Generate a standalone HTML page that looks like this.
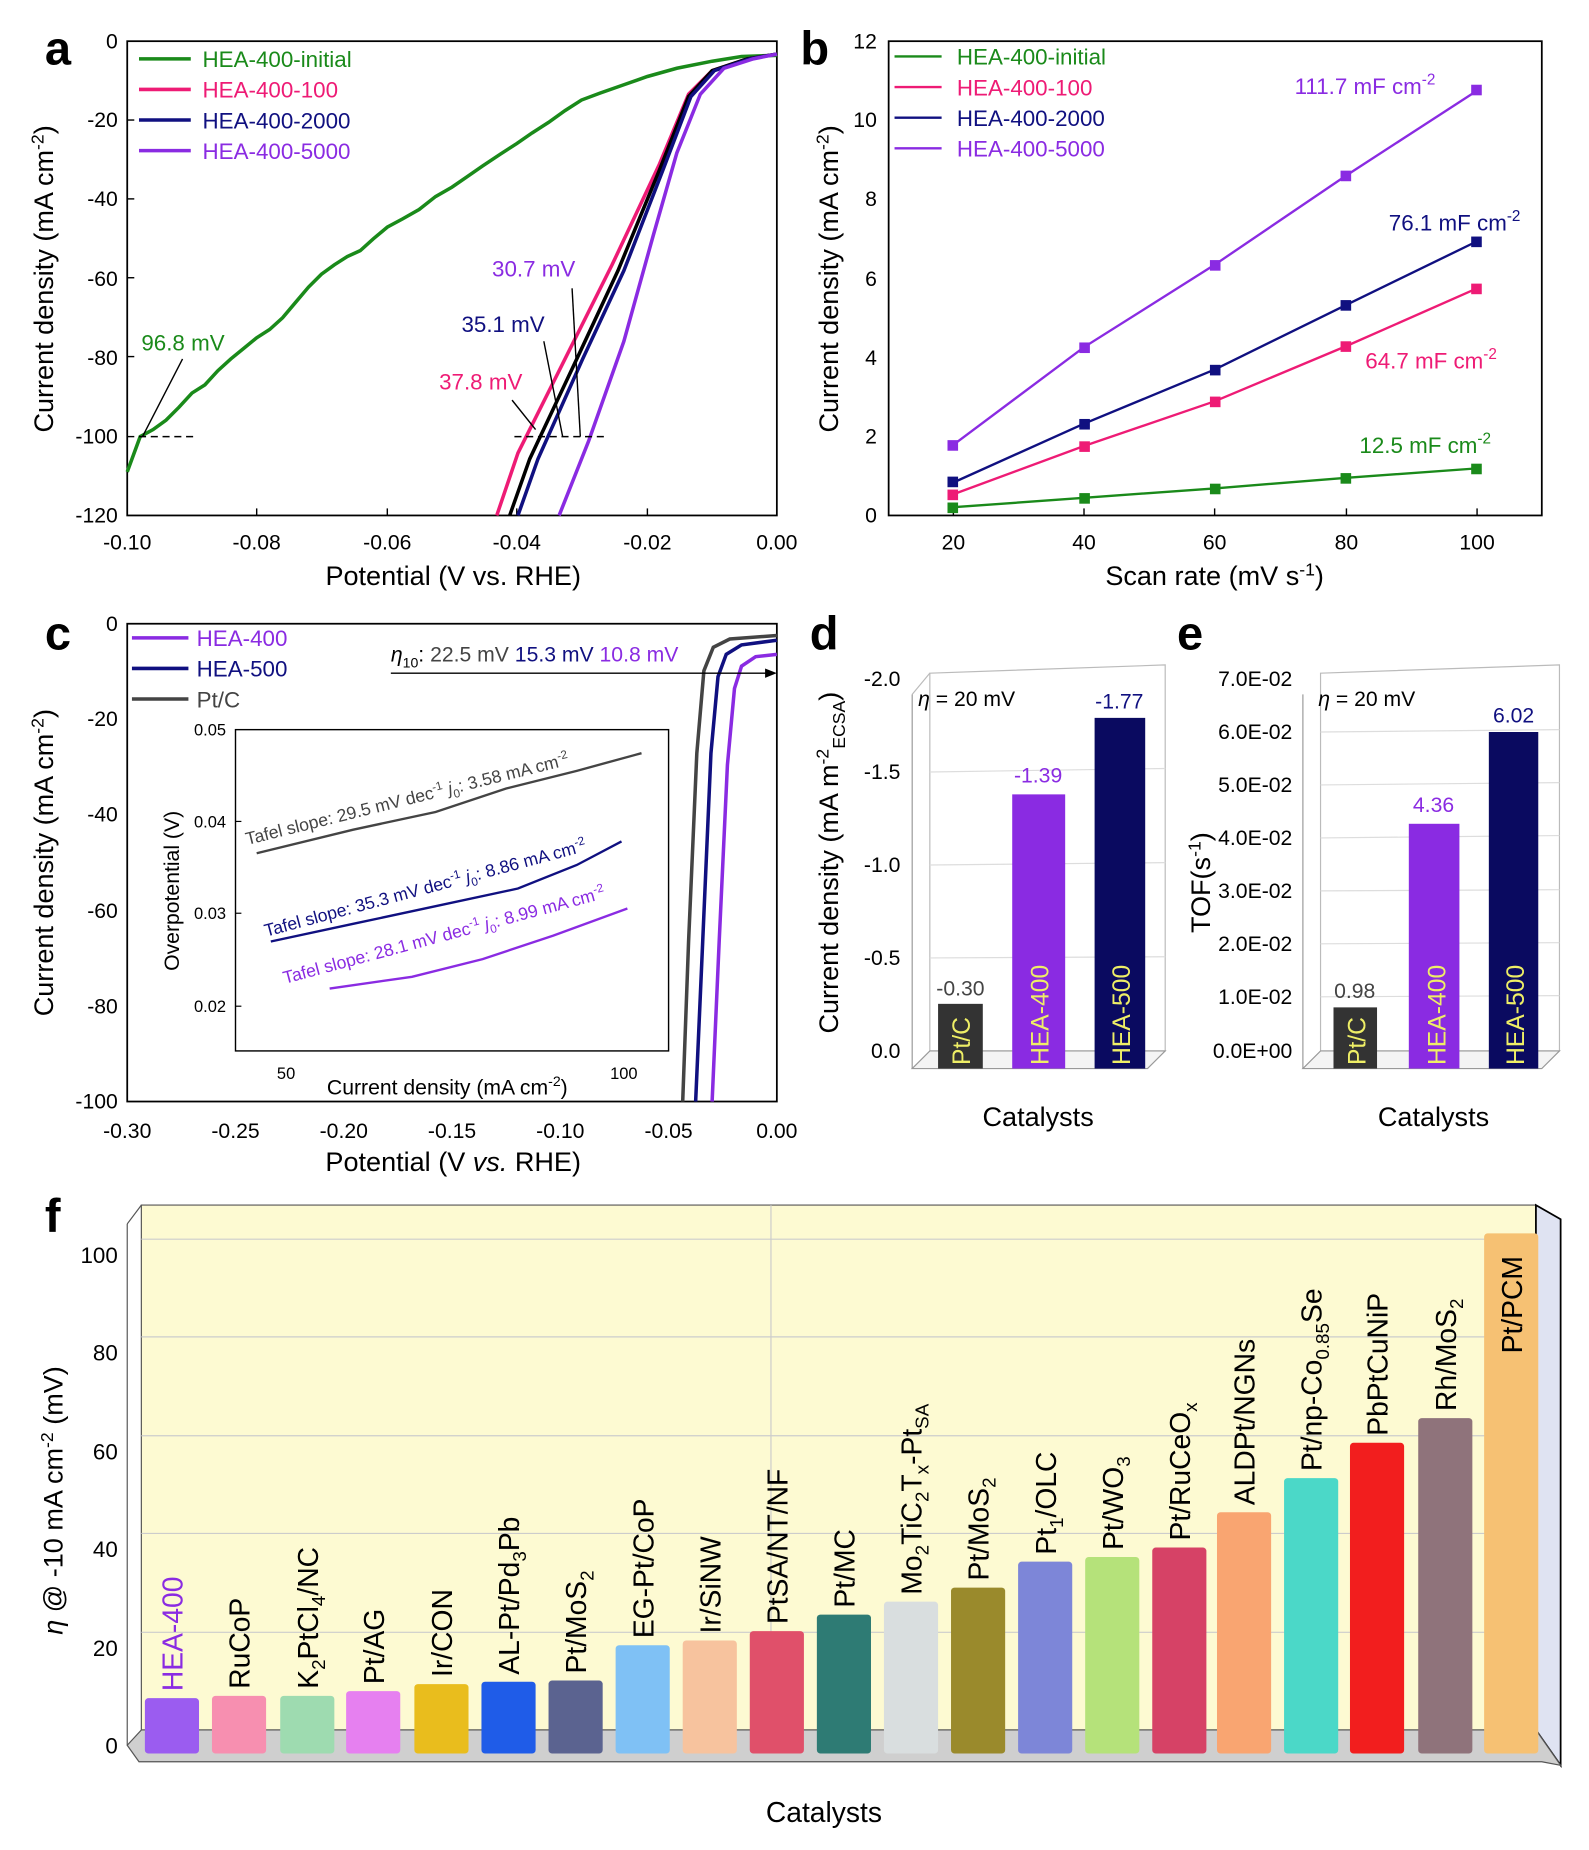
<!DOCTYPE html>
<html><head><meta charset="utf-8"><style>html,body{margin:0;padding:0;background:#fff}svg{display:block}text{font-family:"Liberation Sans",Arial,sans-serif}</style></head>
<body>
<svg width="1589" height="1850" viewBox="0 0 1350 1572" xmlns="http://www.w3.org/2000/svg">
<rect width="1350" height="1572" fill="#fff"/>
<!-- Panel a -->
<text x="38" y="55" font-size="40" font-weight="bold">a</text>
<rect x="108" y="35" width="552" height="403" fill="none" stroke="#000" stroke-width="1.5"/>
<g font-size="18" text-anchor="end">
<text x="100" y="41">0</text><text x="100" y="108">-20</text><text x="100" y="175">-40</text><text x="100" y="243">-60</text><text x="100" y="310">-80</text><text x="100" y="377">-100</text><text x="100" y="444">-120</text></g>
<g stroke="#000" stroke-width="1.2"><line x1="108" y1="102" x2="114" y2="102"/><line x1="108" y1="169" x2="114" y2="169"/><line x1="108" y1="236" x2="114" y2="236"/><line x1="108" y1="303" x2="114" y2="303"/><line x1="108" y1="371" x2="114" y2="371"/>
<line x1="218" y1="438" x2="218" y2="432"/><line x1="329" y1="438" x2="329" y2="432"/><line x1="439" y1="438" x2="439" y2="432"/><line x1="550" y1="438" x2="550" y2="432"/></g>
<g font-size="18" text-anchor="middle"><text x="108" y="467">-0.10</text><text x="218" y="467">-0.08</text><text x="329" y="467">-0.06</text><text x="439" y="467">-0.04</text><text x="550" y="467">-0.02</text><text x="660" y="467">0.00</text></g>
<text x="385" y="497" font-size="23" text-anchor="middle">Potential (V vs. RHE)</text>
<text transform="translate(45,237) rotate(-90)" font-size="23" text-anchor="middle">Current density (mA cm<tspan font-size="15" dy="-8">-2</tspan><tspan dy="8">)</tspan></text>
<g fill="none" stroke-width="3">
<polyline stroke="#1a8a1a" points="108,401 119,371 130,365 141,357 152,346 163,334 174,327 185,315 196,305 207,296 218,287 229,280 240,270 251,257 262,244 273,233 284,225 295,218 306,213 317,203 329,193 342,186 356,178 370,167 384,159 397,150 410,141 425,131 439,122 452,113 466,104 480,94 494,85 510,79 530,72 550,65 575,58 605,52 630,48 660,47"/>
<polyline stroke="#ee1b75" points="422,438 440,385 480,305 520,225 560,140 585,80 605,60 635,50 660,46"/>
<polyline stroke="#000" points="433,438 450,390 490,305 525,230 560,145 585,82 605,60 635,50 660,46"/>
<polyline stroke="#101080" points="440,438 457,390 495,305 530,230 563,145 587,82 607,60 637,50 660,46"/>
<polyline stroke="#8a2be2" points="475,438 500,375 530,290 555,200 575,130 595,80 615,58 640,50 660,46"/>
</g>
<g stroke="#000" stroke-width="1.2" stroke-dasharray="6,4"><line x1="118" y1="371" x2="165" y2="371"/><line x1="437" y1="371" x2="515" y2="371"/></g>
<g stroke="#000" stroke-width="1.2"><line x1="121" y1="371" x2="155" y2="305"/><line x1="455" y1="365" x2="435" y2="340"/><line x1="478" y1="371" x2="462" y2="290"/><line x1="493" y1="371" x2="486" y2="245"/></g>
<text x="120" y="298" font-size="19" fill="#1a8a1a">96.8 mV</text>
<text x="373" y="331" font-size="19" fill="#ee1b75">37.8 mV</text>
<text x="392" y="282" font-size="19" fill="#101080">35.1 mV</text>
<text x="418" y="235" font-size="19" fill="#8a2be2">30.7 mV</text>
<g font-size="19"><line x1="118" y1="50" x2="162" y2="50" stroke="#1a8a1a" stroke-width="3"/><text x="172" y="57" fill="#1a8a1a">HEA-400-initial</text>
<line x1="118" y1="76" x2="162" y2="76" stroke="#ee1b75" stroke-width="3"/><text x="172" y="83" fill="#ee1b75">HEA-400-100</text>
<line x1="118" y1="102" x2="162" y2="102" stroke="#101080" stroke-width="3"/><text x="172" y="109" fill="#101080">HEA-400-2000</text>
<line x1="118" y1="128" x2="162" y2="128" stroke="#8a2be2" stroke-width="3"/><text x="172" y="135" fill="#8a2be2">HEA-400-5000</text></g>

<!-- Panel b -->
<text x="680" y="55" font-size="40" font-weight="bold">b</text>
<rect x="755" y="35" width="555" height="403" fill="none" stroke="#000" stroke-width="1.5"/>
<g font-size="18" text-anchor="end"><text x="745" y="444">0</text><text x="745" y="377">2</text><text x="745" y="310">4</text><text x="745" y="243">6</text><text x="745" y="175">8</text><text x="745" y="108">10</text><text x="745" y="41">12</text></g>
<g font-size="18" text-anchor="middle"><text x="810" y="467">20</text><text x="921" y="467">40</text><text x="1032" y="467">60</text><text x="1144" y="467">80</text><text x="1255" y="467">100</text></g>
<g stroke="#000" stroke-width="1.2"><line x1="810" y1="438" x2="810" y2="432"/><line x1="921" y1="438" x2="921" y2="432"/><line x1="1032" y1="438" x2="1032" y2="432"/><line x1="1144" y1="438" x2="1144" y2="432"/><line x1="1255" y1="438" x2="1255" y2="432"/></g>
<text x="1032" y="497" font-size="23" text-anchor="middle">Scan rate (mV s<tspan font-size="15" dy="-8">-1</tspan><tspan dy="8">)</tspan></text>
<text transform="translate(712,237) rotate(-90)" font-size="23" text-anchor="middle">Current density (mA cm<tspan font-size="15" dy="-8">-2</tspan><tspan dy="8">)</tspan></text>
<g stroke-width="2" fill="none">
<polyline stroke="#8a2be2" points="810,378 921,295 1032,225 1144,149 1255,77"/>
<polyline stroke="#101080" points="810,410 921,360 1032,314 1144,259 1255,205"/>
<polyline stroke="#ee1b75" points="810,420 921,379 1032,341 1144,294 1255,245"/>
<polyline stroke="#1a8a1a" points="810,431 921,423 1032,415 1144,406 1255,398"/>
</g>
<g fill="#8a2be2"><rect x="805" y="374" width="9" height="9"/><rect x="917" y="291" width="9" height="9"/><rect x="1028" y="221" width="9" height="9"/><rect x="1139" y="145" width="9" height="9"/><rect x="1250" y="72" width="9" height="9"/></g>
<g fill="#101080"><rect x="805" y="405" width="9" height="9"/><rect x="917" y="356" width="9" height="9"/><rect x="1028" y="310" width="9" height="9"/><rect x="1139" y="255" width="9" height="9"/><rect x="1250" y="201" width="9" height="9"/></g>
<g fill="#ee1b75"><rect x="805" y="416" width="9" height="9"/><rect x="917" y="375" width="9" height="9"/><rect x="1028" y="337" width="9" height="9"/><rect x="1139" y="290" width="9" height="9"/><rect x="1250" y="241" width="9" height="9"/></g>
<g fill="#1a8a1a"><rect x="805" y="427" width="9" height="9"/><rect x="917" y="419" width="9" height="9"/><rect x="1028" y="411" width="9" height="9"/><rect x="1139" y="402" width="9" height="9"/><rect x="1250" y="394" width="9" height="9"/></g>
<g font-size="19"><text x="1100" y="80" fill="#8a2be2">111.7 mF cm<tspan font-size="13" dy="-8">-2</tspan></text>
<text x="1180" y="196" fill="#101080">76.1 mF cm<tspan font-size="13" dy="-8">-2</tspan></text>
<text x="1160" y="313" fill="#ee1b75">64.7 mF cm<tspan font-size="13" dy="-8">-2</tspan></text>
<text x="1155" y="385" fill="#1a8a1a">12.5 mF cm<tspan font-size="13" dy="-8">-2</tspan></text></g>
<g font-size="19"><line x1="760" y1="48" x2="800" y2="48" stroke="#1a8a1a" stroke-width="2"/><text x="813" y="55" fill="#1a8a1a">HEA-400-initial</text>
<line x1="760" y1="74" x2="800" y2="74" stroke="#ee1b75" stroke-width="2"/><text x="813" y="81" fill="#ee1b75">HEA-400-100</text>
<line x1="760" y1="100" x2="800" y2="100" stroke="#101080" stroke-width="2"/><text x="813" y="107" fill="#101080">HEA-400-2000</text>
<line x1="760" y1="126" x2="800" y2="126" stroke="#8a2be2" stroke-width="2"/><text x="813" y="133" fill="#8a2be2">HEA-400-5000</text></g>

<!-- Panel c -->
<text x="38" y="552" font-size="40" font-weight="bold">c</text>
<rect x="108" y="530" width="552" height="406" fill="none" stroke="#000" stroke-width="1.5"/>
<g font-size="18" text-anchor="end"><text x="100" y="536">0</text><text x="100" y="617">-20</text><text x="100" y="698">-40</text><text x="100" y="780">-60</text><text x="100" y="861">-80</text><text x="100" y="942">-100</text></g>
<g font-size="18" text-anchor="middle"><text x="108" y="967">-0.30</text><text x="200" y="967">-0.25</text><text x="292" y="967">-0.20</text><text x="384" y="967">-0.15</text><text x="476" y="967">-0.10</text><text x="568" y="967">-0.05</text><text x="660" y="967">0.00</text></g>
<text x="385" y="995" font-size="23" text-anchor="middle">Potential (V <tspan font-style="italic">vs.</tspan> RHE)</text>
<text transform="translate(45,733) rotate(-90)" font-size="23" text-anchor="middle">Current density (mA cm<tspan font-size="15" dy="-8">-2</tspan><tspan dy="8">)</tspan></text>
<g fill="none" stroke-width="3">
<polyline stroke="#444" points="580,936 585,800 592,640 598,570 606,550 620,543 660,540"/>
<polyline stroke="#101080" points="591,936 597,800 604,640 610,575 617,556 630,548 660,544"/>
<polyline stroke="#8a2be2" points="605,936 611,800 618,650 624,585 630,566 642,558 660,556"/>
</g>
<g font-size="19"><line x1="112" y1="542" x2="160" y2="542" stroke="#8a2be2" stroke-width="3"/><text x="167" y="549" fill="#8a2be2">HEA-400</text>
<line x1="112" y1="568" x2="160" y2="568" stroke="#101080" stroke-width="3"/><text x="167" y="575" fill="#101080">HEA-500</text>
<line x1="112" y1="594" x2="160" y2="594" stroke="#444" stroke-width="3"/><text x="167" y="601" fill="#444">Pt/C</text></g>
<text x="332" y="562" font-size="18"><tspan font-style="italic">η</tspan><tspan font-size="12" dy="5">10</tspan><tspan dy="-5">: </tspan><tspan fill="#444">22.5 mV </tspan><tspan fill="#101080">15.3 mV </tspan><tspan fill="#8a2be2">10.8 mV</tspan></text>
<line x1="332" y1="572" x2="655" y2="572" stroke="#000" stroke-width="1.2"/><polygon points="660,572 650,568 650,576" fill="#000"/>
<rect x="200" y="620" width="368" height="273" fill="#fff" stroke="#000" stroke-width="1.2"/>
<g font-size="14" text-anchor="end"><text x="192" y="625">0.05</text><text x="192" y="703">0.04</text><text x="192" y="781">0.03</text><text x="192" y="860">0.02</text></g>
<g stroke="#000"><line x1="200" y1="698" x2="205" y2="698"/><line x1="200" y1="776" x2="205" y2="776"/><line x1="200" y1="855" x2="205" y2="855"/></g>
<text x="243" y="917" font-size="14" text-anchor="middle">50</text><text x="530" y="917" font-size="14" text-anchor="middle">100</text>
<text x="380" y="930" font-size="18" text-anchor="middle">Current density (mA cm<tspan font-size="12" dy="-7">-2</tspan><tspan dy="7">)</tspan></text>
<text transform="translate(152,757) rotate(-90)" font-size="18" text-anchor="middle">Overpotential (V)</text>
<g fill="none" stroke-width="2">
<polyline stroke="#444" points="218,725 300,705 370,690 430,670 490,655 545,640"/>
<polyline stroke="#101080" points="230,800 300,785 370,770 440,755 490,735 528,715"/>
<polyline stroke="#8a2be2" points="280,840 350,830 410,815 470,795 533,772"/>
</g>
<text transform="translate(210,718) rotate(-14)" font-size="15" fill="#444">Tafel slope: 29.5 mV dec<tspan font-size="10" dy="-6">-1</tspan><tspan dy="6"> </tspan><tspan font-style="italic">j</tspan><tspan font-size="10" dy="4">0</tspan><tspan dy="-4">: 3.58 mA cm</tspan><tspan font-size="10" dy="-6">-2</tspan></text>
<text transform="translate(226,796) rotate(-15)" font-size="15" fill="#101080">Tafel slope: 35.3 mV dec<tspan font-size="10" dy="-6">-1</tspan><tspan dy="6"> </tspan><tspan font-style="italic">j</tspan><tspan font-size="10" dy="4">0</tspan><tspan dy="-4">: 8.86 mA cm</tspan><tspan font-size="10" dy="-6">-2</tspan></text>
<text transform="translate(242,836) rotate(-15)" font-size="15" fill="#8a2be2">Tafel slope: 28.1 mV dec<tspan font-size="10" dy="-6">-1</tspan><tspan dy="6"> </tspan><tspan font-style="italic">j</tspan><tspan font-size="10" dy="4">0</tspan><tspan dy="-4">: 8.99 mA cm</tspan><tspan font-size="10" dy="-6">-2</tspan></text>

<!-- Panel d -->
<text x="688" y="552" font-size="40" font-weight="bold">d</text>
<polygon points="790,572 990,565 990,893 790,893" fill="#fff" stroke="#bbb"/>
<polygon points="775,908 975,908 990,893 790,893" fill="#f4f4f4" stroke="#999"/>
<line x1="775" y1="908" x2="775" y2="590" stroke="#999"/>
<line x1="775" y1="590" x2="790" y2="572" stroke="#bbb"/>
<g stroke="#ddd"><line x1="790" y1="656" x2="990" y2="653"/><line x1="790" y1="735" x2="990" y2="733"/><line x1="790" y1="814" x2="990" y2="813"/></g>
<g font-size="18" text-anchor="end"><text x="765" y="583">-2.0</text><text x="765" y="662">-1.5</text><text x="765" y="741">-1.0</text><text x="765" y="820">-0.5</text><text x="765" y="899">0.0</text></g>
<text transform="translate(712,733) rotate(-90)" font-size="23" text-anchor="middle">Current density (mA m<tspan font-size="15" dy="-8">-2</tspan><tspan font-size="15" dy="14">ECSA</tspan><tspan dy="-6">)</tspan></text>
<text x="780" y="600" font-size="18"><tspan font-style="italic">η</tspan> = 20 mV</text>
<rect x="797" y="853" width="38" height="55" fill="#333"/>
<rect x="860" y="675" width="45" height="233" fill="#8a2be2"/>
<rect x="930" y="610" width="43" height="298" fill="#0a0a60"/>
<text x="816" y="846" font-size="18" fill="#444" text-anchor="middle">-0.30</text>
<text x="882" y="665" font-size="18" fill="#8a2be2" text-anchor="middle">-1.39</text>
<text x="951" y="602" font-size="18" fill="#101080" text-anchor="middle">-1.77</text>
<text transform="translate(824,905) rotate(-90)" font-size="21" fill="#ee6">Pt/C</text>
<text transform="translate(891,905) rotate(-90)" font-size="21" fill="#ee6">HEA-400</text>
<text transform="translate(960,905) rotate(-90)" font-size="21" fill="#ee6">HEA-500</text>
<text x="882" y="957" font-size="23" text-anchor="middle">Catalysts</text>

<!-- Panel e -->
<text x="1000" y="552" font-size="40" font-weight="bold">e</text>
<polygon points="1122,572 1325,565 1325,893 1122,893" fill="#fff" stroke="#bbb"/>
<polygon points="1107,908 1310,908 1325,893 1122,893" fill="#f4f4f4" stroke="#999"/>
<line x1="1107" y1="908" x2="1107" y2="590" stroke="#999"/>
<g stroke="#ddd"><line x1="1122" y1="622" x2="1325" y2="620"/><line x1="1122" y1="667" x2="1325" y2="665"/><line x1="1122" y1="712" x2="1325" y2="710"/><line x1="1122" y1="757" x2="1325" y2="756"/><line x1="1122" y1="802" x2="1325" y2="801"/><line x1="1122" y1="847" x2="1325" y2="846"/></g>
<g font-size="18" text-anchor="end"><text x="1098" y="583">7.0E-02</text><text x="1098" y="628">6.0E-02</text><text x="1098" y="673">5.0E-02</text><text x="1098" y="718">4.0E-02</text><text x="1098" y="763">3.0E-02</text><text x="1098" y="808">2.0E-02</text><text x="1098" y="853">1.0E-02</text><text x="1098" y="899">0.0E+00</text></g>
<text transform="translate(1028,750) rotate(-90)" font-size="23" text-anchor="middle">TOF(s<tspan font-size="15" dy="-8">-1</tspan><tspan dy="8">)</tspan></text>
<text x="1120" y="600" font-size="18"><tspan font-style="italic">η</tspan> = 20 mV</text>
<rect x="1133" y="856" width="37" height="52" fill="#333"/>
<rect x="1197" y="700" width="43" height="208" fill="#8a2be2"/>
<rect x="1265" y="622" width="42" height="286" fill="#0a0a60"/>
<text x="1151" y="848" font-size="18" fill="#444" text-anchor="middle">0.98</text>
<text x="1218" y="690" font-size="18" fill="#8a2be2" text-anchor="middle">4.36</text>
<text x="1286" y="614" font-size="18" fill="#101080" text-anchor="middle">6.02</text>
<text transform="translate(1160,905) rotate(-90)" font-size="21" fill="#ee6">Pt/C</text>
<text transform="translate(1228,905) rotate(-90)" font-size="21" fill="#ee6">HEA-400</text>
<text transform="translate(1295,905) rotate(-90)" font-size="21" fill="#ee6">HEA-500</text>
<text x="1218" y="957" font-size="23" text-anchor="middle">Catalysts</text>

<!-- Panel f -->
<text x="38" y="1047" font-size="40" font-weight="bold">f</text>
<polygon points="120,1024 1305,1024 1305,1470 120,1470" fill="#fdfad2" stroke="#555"/>
<polygon points="1305,1024 1326,1036 1326,1500 1305,1470" fill="#dfe3f2" stroke="#000" stroke-width="1.5"/>
<polygon points="108,1483 120,1470 1305,1470 1326,1500 1310,1497 118,1497" fill="#cfcfcf" stroke="#555"/>
<line x1="108" y1="1040" x2="108" y2="1483" stroke="#555"/>
<line x1="108" y1="1040" x2="120" y2="1024" stroke="#555"/>
<g stroke="#ccc"><line x1="120" y1="1387" x2="1305" y2="1387"/><line x1="120" y1="1303" x2="1305" y2="1303"/><line x1="120" y1="1220" x2="1305" y2="1220"/><line x1="120" y1="1136" x2="1305" y2="1136"/><line x1="120" y1="1053" x2="1305" y2="1053"/><line x1="655" y1="1024" x2="655" y2="1470"/></g>
<g font-size="19" text-anchor="end"><text x="100" y="1490">0</text><text x="100" y="1407">20</text><text x="100" y="1323">40</text><text x="100" y="1240">60</text><text x="100" y="1156">80</text><text x="100" y="1073">100</text></g>
<text transform="translate(53,1275) rotate(-90)" font-size="23" text-anchor="middle"><tspan font-style="italic">η</tspan> @ -10 mA cm<tspan font-size="15" dy="-8">-2</tspan><tspan dy="8"> (mV)</tspan></text>
<text x="700" y="1548" font-size="24" text-anchor="middle">Catalysts</text>
<g>
<rect x="123" y="1443" width="46" height="47" rx="3" fill="#9b5cf0"/>
<rect x="180" y="1441" width="46" height="49" rx="3" fill="#f78fb0"/>
<rect x="238" y="1441" width="46" height="49" rx="3" fill="#9edbb0"/>
<rect x="294" y="1437" width="46" height="53" rx="3" fill="#e680f0"/>
<rect x="352" y="1431" width="46" height="59" rx="3" fill="#e9bd1d"/>
<rect x="409" y="1429" width="46" height="61" rx="3" fill="#1f5ce8"/>
<rect x="466" y="1428" width="46" height="62" rx="3" fill="#5b6390"/>
<rect x="523" y="1398" width="46" height="92" rx="3" fill="#7fc1f5"/>
<rect x="580" y="1394" width="46" height="96" rx="3" fill="#f7c39e"/>
<rect x="637" y="1386" width="46" height="104" rx="3" fill="#e0506a"/>
<rect x="694" y="1372" width="46" height="118" rx="3" fill="#2e7b74"/>
<rect x="751" y="1361" width="46" height="129" rx="3" fill="#d9dedf"/>
<rect x="808" y="1349" width="46" height="141" rx="3" fill="#9a8a2c"/>
<rect x="865" y="1327" width="46" height="163" rx="3" fill="#7d86d8"/>
<rect x="922" y="1323" width="46" height="167" rx="3" fill="#b5e27a"/>
<rect x="979" y="1315" width="46" height="175" rx="3" fill="#d64266"/>
<rect x="1034" y="1285" width="46" height="205" rx="3" fill="#f9a571"/>
<rect x="1091" y="1256" width="46" height="234" rx="3" fill="#4bd8c8"/>
<rect x="1147" y="1226" width="46" height="264" rx="3" fill="#f21e1e"/>
<rect x="1205" y="1205" width="46" height="285" rx="3" fill="#8f737b"/>
<rect x="1261" y="1048" width="46" height="442" rx="3" fill="#f6c173"/>
</g>
<g font-size="24">
<text transform="translate(155,1437) rotate(-90)" fill="#8a2be2">HEA-400</text>
<text transform="translate(212,1435) rotate(-90)">RuCoP</text>
<text transform="translate(270,1435) rotate(-90)">K<tspan font-size="16" dy="6">2</tspan><tspan dy="-6">PtCl</tspan><tspan font-size="16" dy="6">4</tspan><tspan dy="-6">/NC</tspan></text>
<text transform="translate(326,1431) rotate(-90)">Pt/AG</text>
<text transform="translate(384,1425) rotate(-90)">Ir/CON</text>
<text transform="translate(441,1423) rotate(-90)">AL-Pt/Pd<tspan font-size="16" dy="6">3</tspan><tspan dy="-6">Pb</tspan></text>
<text transform="translate(498,1422) rotate(-90)">Pt/MoS<tspan font-size="16" dy="6">2</tspan></text>
<text transform="translate(555,1392) rotate(-90)">EG-Pt/CoP</text>
<text transform="translate(612,1388) rotate(-90)">Ir/SiNW</text>
<text transform="translate(669,1380) rotate(-90)">PtSA/NT/NF</text>
<text transform="translate(726,1366) rotate(-90)">Pt/MC</text>
<text transform="translate(783,1355) rotate(-90)">Mo<tspan font-size="16" dy="6">2</tspan><tspan dy="-6">TiC</tspan><tspan font-size="16" dy="6">2</tspan><tspan dy="-6">T</tspan><tspan font-size="16" dy="6">x</tspan><tspan dy="-6">-Pt</tspan><tspan font-size="16" dy="6">SA</tspan></text>
<text transform="translate(840,1343) rotate(-90)">Pt/MoS<tspan font-size="16" dy="6">2</tspan></text>
<text transform="translate(897,1321) rotate(-90)">Pt<tspan font-size="16" dy="6">1</tspan><tspan dy="-6">/OLC</tspan></text>
<text transform="translate(954,1317) rotate(-90)">Pt/WO<tspan font-size="16" dy="6">3</tspan></text>
<text transform="translate(1011,1309) rotate(-90)">Pt/RuCeO<tspan font-size="16" dy="6">x</tspan></text>
<text transform="translate(1066,1279) rotate(-90)">ALDPt/NGNs</text>
<text transform="translate(1123,1250) rotate(-90)">Pt/np-Co<tspan font-size="16" dy="6">0.85</tspan><tspan dy="-6">Se</tspan></text>
<text transform="translate(1179,1220) rotate(-90)">PbPtCuNiP</text>
<text transform="translate(1237,1199) rotate(-90)">Rh/MoS<tspan font-size="16" dy="6">2</tspan></text>
<text transform="translate(1293,1150) rotate(-90)">Pt/PCM</text>
</g>
</svg>
</body></html>
